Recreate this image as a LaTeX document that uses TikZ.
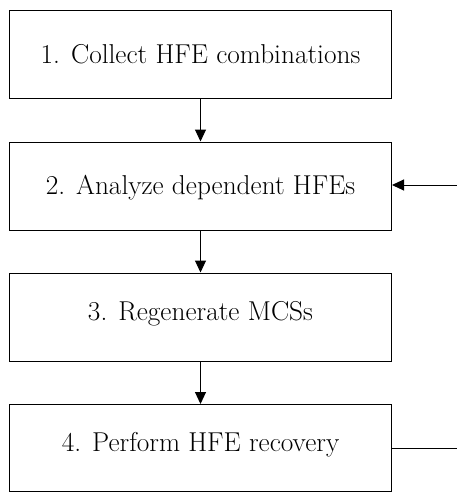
\documentclass[tikz,border=0pt]{standalone}
\usepackage{fontspec}
\setmainfont{Latin Modern Roman}
\usetikzlibrary{arrows.meta}
\begin{document}
\begin{tikzpicture}[x=1pt,y=-1pt,
  stepbox/.style={draw, line width=1pt, minimum width=382pt, minimum height=88pt, inner sep=0pt, font=\fontsize{27.3}{32}\selectfont, text=black, text height=18.6pt, text depth=0pt},
  raised/.style={text depth=12pt},
  conn/.style={line width=1pt, -{Triangle[length=12pt,width=11pt]}}]
\useasboundingbox (0,0) rectangle (457,493);
\node[stepbox] (b1) at (200.5,54) {1. Collect HFE combinations};
\node[stepbox, text depth=2pt] (b2) at (200.5,186) {2. Analyze dependent HFEs};
\node[stepbox, raised] (b3) at (200.5,317) {3. Regenerate MCSs};
\node[stepbox, raised, minimum height=87pt] (b4) at (200.5,448) {4. Perform HFE recovery};
\coordinate (in2) at (457,185);
\coordinate (out4) at (457,448);
\draw[conn] (b1.south) -- (b2.north);
\draw[conn] (b2.south) -- (b3.north);
\draw[conn] (b3.south) -- (b4.north);
\draw[conn] (in2) -- (b2.east |- in2);
\draw[line width=1pt] (b4.east |- out4) -- (out4);
\end{tikzpicture}
\end{document}
